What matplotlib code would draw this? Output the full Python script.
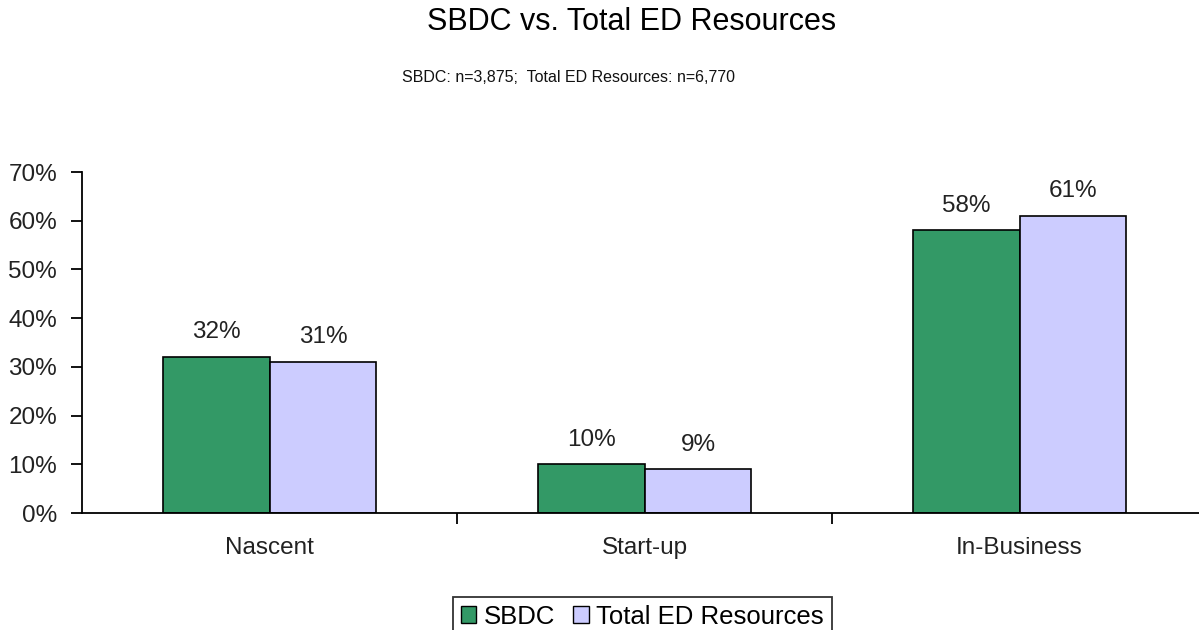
import numpy as np
import matplotlib.pyplot as plt
from matplotlib.patches import Patch

plt.rcParams['font.family'] = ['Liberation Sans', 'DejaVu Sans']

categories = ['Nascent', 'Start-up', 'In-Business']
sbdc = [32, 10, 58]
total_ed = [31, 9, 61]
series_names = ['SBDC', 'Total ED Resources']
yticks = [0, 10, 20, 30, 40, 50, 60, 70]

green = '#339966'
lavender = '#ccccff'

fig = plt.figure(figsize=(11.99, 6.30), dpi=100)
ax = fig.add_axes([82 / 1199, 1 - 513 / 630, 1125 / 1199, 341 / 630])

x = np.arange(len(categories))
w = 0.285
b1 = ax.bar(x - w / 2, sbdc, w, color=green, edgecolor='black', linewidth=1.2)
b2 = ax.bar(x + w / 2, total_ed, w, color=lavender, edgecolor='black', linewidth=1.2)

for bars, vals in ((b1, sbdc), (b2, total_ed)):
    for bar, v in zip(bars, vals):
        ax.text(bar.get_x() + bar.get_width() / 2, v + 2.8, f'{v}%',
                ha='center', va='bottom', fontsize=17.5, color='#222222')

ax.set_xlim(-0.5, 2.5)
ax.set_ylim(0, 70)
ax.set_yticks(yticks)
ax.set_yticklabels([f'{t}%' for t in yticks], fontsize=17.5, color='#222222')
ax.set_xticks([0.5, 1.5])
ax.set_xticklabels([])
for i, c in enumerate(categories):
    ax.text(i, -5.0, c, ha='center', va='top', fontsize=17.5, color='#222222')

for s in ('top', 'right'):
    ax.spines[s].set_visible(False)
ax.spines['left'].set_linewidth(1.3)
ax.spines['bottom'].set_linewidth(1.3)
ax.tick_params(axis='y', direction='out', length=8, width=1.3, pad=10)
ax.tick_params(axis='x', direction='out', length=8, width=1.3)

fig.text(632 / 1199, 1 - 22 / 630, 'SBDC vs. Total ED Resources', ha='center',
         va='center', fontsize=22)
fig.text(568 / 1199, 1 - 77 / 630, 'SBDC: n=3,875;  Total ED Resources: n=6,770',
         ha='center', va='center', fontsize=11.5, color='#111111')

handles = [Patch(facecolor=green, edgecolor='black'),
           Patch(facecolor=lavender, edgecolor='black')]
leg = fig.legend(handles, series_names, loc='upper left',
                 bbox_to_anchor=(453 / 1199, 1 - 597 / 630), ncol=2, fontsize=18.5,
                 frameon=True, fancybox=False, handlelength=0.6, handleheight=0.6,
                 handletextpad=0.3, columnspacing=0.7, borderpad=0.3,
                 borderaxespad=0)
leg.get_frame().set_edgecolor('black')
leg.get_frame().set_linewidth(1.3)

fig.savefig('out.png', dpi=100)
